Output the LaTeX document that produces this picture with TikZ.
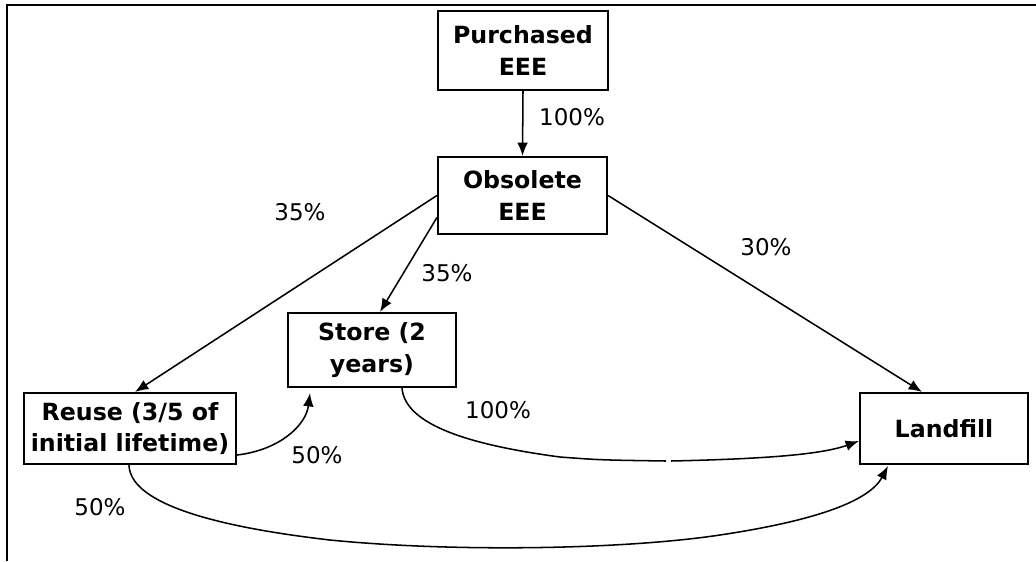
\documentclass[tikz,border=0pt]{standalone}
\usepackage{fontspec}
\setmainfont{DejaVu Sans}
\usetikzlibrary{arrows.meta,calc}
\tikzset{
  box/.style={draw, line width=1.6pt, inner sep=1pt, align=center,
    font=\fontsize{17.75}{23.5}\selectfont\bfseries},
  lbl/.style={inner sep=0pt, font=\fontsize{17.25}{21}\selectfont},
  flow/.style={line width=1.15pt, -{Latex[length=10pt,width=8pt]}},
  plain/.style={line width=1.15pt},
  frame/.style={line width=2pt}
}
\begin{document}
\begin{tikzpicture}[x=0.75pt,y=-0.75pt]
\useasboundingbox (0,0) rectangle (1036,561);
% frame
\draw[frame] (7,561) -- (7,5) -- (1036,5);
% boxes
\node[box, minimum width=127.5pt, minimum height=59.25pt] (purchased) at (523,50.5) {Purchased\\EEE};
\node[box, minimum width=126.75pt, minimum height=57.75pt] (obsolete) at (522.5,195.5) {Obsolete\\EEE};
\node[box, minimum width=126pt, minimum height=55.5pt] (store) at (372,350) {Store (2\\years)};
\node[box, minimum width=159pt, minimum height=53.25pt] (reuse) at (130,428.5) {Reuse (3/5 of\\initial lifetime)};
\node[box, minimum width=126pt, minimum height=53.25pt] (landfill) at (944,428.5) {Landfill};
% labels
\node[lbl] (l1) at (572,117) {100\%};
\node[lbl] (l2) at (300,212) {35\%};
\node[lbl] (l3) at (447,273) {35\%};
\node[lbl] (l4) at (766,247) {30\%};
\node[lbl] (l5) at (498,410) {100\%};
\node[lbl] (l6) at (317,455) {50\%};
\node[lbl] (l7) at (100,507) {50\%};
% gap coordinates on the store-landfill curve
\coordinate (g1) at (666,461);
\coordinate (g2) at (671,461);
% straight connectors
\draw[flow] (purchased.south) -- (obsolete.north);
\draw[flow] (obsolete.west) -- ($(reuse.north)+(5,0)$);
\draw[flow] ($(obsolete.west)+(0,22)$) -- ($(store.north)+(8,0)$);
\draw[flow] (obsolete.east) -- ($(landfill.north)+(-22,0)$);
% curved connectors
\draw[plain] ($(store.south)+(30,0)$) .. controls (405,425) and (470,445) .. (560,457) .. controls (600,460) .. (g1);
\draw[flow] (g2) .. controls (760,459) and (820,455) .. ($(landfill.west)+(0,12.5)$);
\draw[flow] ($(reuse.east)+(0,26.5)$) .. controls (280,450) and (306,425) .. ($(store.south)+(-62,5)$);
\draw[flow] ($(reuse.south)+(-1,0)$) .. controls (130,500) and (200,525) .. (330,540) .. controls (450,552) and (620,550) .. (720,535) .. controls (820,520) and (870,500) .. ($(landfill.south)+(-56,1)$);
\end{tikzpicture}
\end{document}
